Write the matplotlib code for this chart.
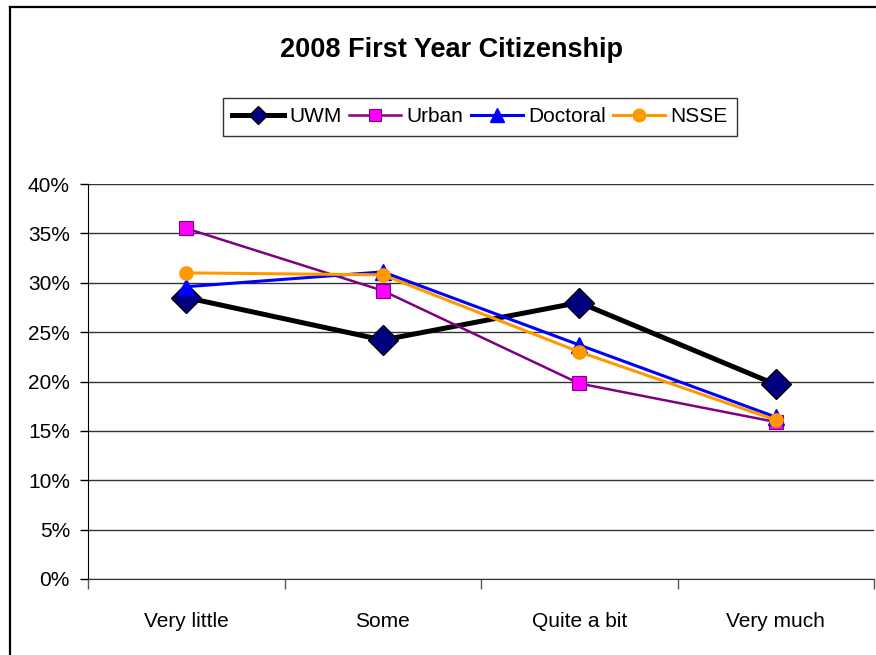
import numpy as np, matplotlib
matplotlib.use("Agg"); import matplotlib.pyplot as plt
from matplotlib.lines import Line2D
plt.rcParams.update({"font.family":["Liberation Sans","DejaVu Sans"]})

categories=["Very little","Some","Quite a bit","Very much"]
uwm=[28.5,24.2,28.0,19.7]
urban=[35.5,29.2,19.8,15.9]
doctoral=[29.6,31.1,23.7,16.4]
nsse=[31.0,30.8,23.0,16.1]
yticks=[0,5,10,15,20,25,30,35,40]

W,H=876,655
fig=plt.figure(figsize=(W/100,H/100),dpi=100)
ax=fig.add_axes([88/W,1-579/H,(874-88)/W,(579-184)/H])
x=np.arange(len(categories))

# outer chart frame (cropped on right/bottom)
fig.add_artist(Line2D([10/W,10/W],[0,1-7/H],transform=fig.transFigure,color="black",lw=1.6))
fig.add_artist(Line2D([10/W,1],[1-7/H,1-7/H],transform=fig.transFigure,color="black",lw=1.6))

ax.plot(x,uwm,color="black",lw=3.6,marker="D",ms=15,mfc="#000080",mec="black",mew=1,label="UWM",zorder=3)
ax.plot(x,urban,color="#800080",lw=1.8,marker="s",ms=9.5,mfc="#FF00FF",mec="#800080",mew=0.8,label="Urban",zorder=4)
ax.plot(x,doctoral,color="#0000FF",lw=2.2,marker="^",ms=11,mfc="#0000FF",mec="#0000FF",label="Doctoral",zorder=5)
ax.plot(x,nsse,color="#FF9900",lw=2.2,marker="o",ms=9.5,mfc="#FF9900",mec="#FF9900",label="NSSE",zorder=6)

ax.set_xlim(-0.5,len(categories)-0.5); ax.set_ylim(0,40)
ax.set_yticks(yticks); ax.set_yticklabels(["%d%%"%v for v in yticks],fontsize=15)
ax.set_xticks(x); ax.set_xticklabels(categories,fontsize=15)
ax.set_xticks(np.arange(-0.5,len(categories)),minor=True)
ax.tick_params(axis="x",which="major",length=0,pad=24)
ax.tick_params(axis="x",which="minor",length=7,width=1,direction="out",color="#555555")
ax.tick_params(axis="y",length=6,width=1,direction="out",pad=7)
ax.grid(axis="y",color="#333333",lw=1)
ax.set_axisbelow(True)
for s in ["top","right"]: ax.spines[s].set_visible(False)
ax.spines["left"].set_color("black"); ax.spines["bottom"].set_color("#333333")

fig.text(451/W,1-50/H,"2008 First Year Citizenship",ha="center",va="center",fontsize=19.5,fontweight="bold")
leg=fig.legend(loc="center",bbox_to_anchor=(480/W,1-117/H),ncol=4,fontsize=15,frameon=True,fancybox=False,
               handlelength=2.5,handletextpad=0.25,columnspacing=0.35,borderpad=0.45,borderaxespad=0,edgecolor="black")
leg.get_frame().set_linewidth(1.0)
for h,ms in zip(leg.legend_handles,[9,9,10,9]): h.set_markersize(ms)
fig.savefig("out.png",dpi=100)
